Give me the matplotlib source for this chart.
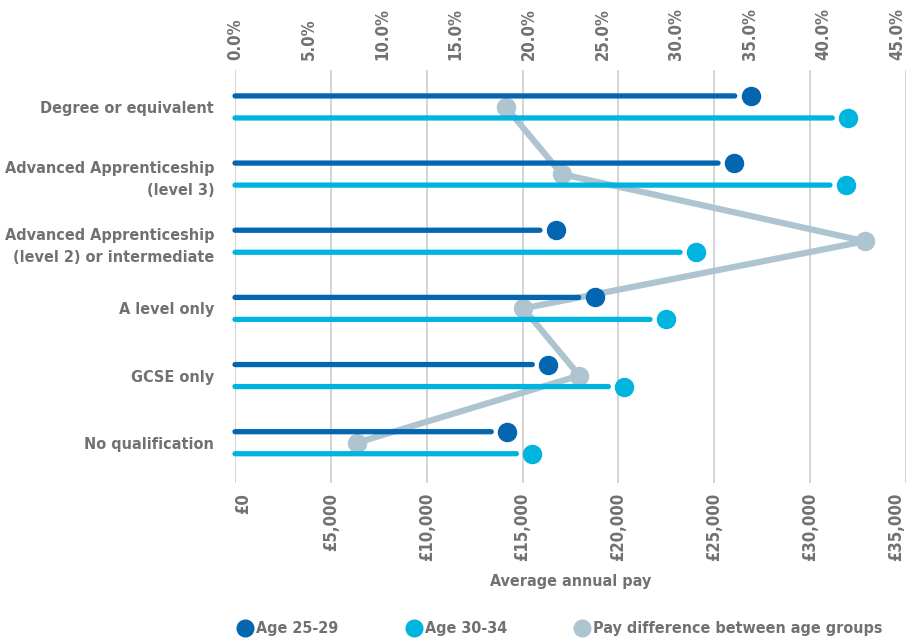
import matplotlib
matplotlib.use("Agg")
import matplotlib.pyplot as plt
from matplotlib.ticker import FuncFormatter, FixedLocator
from matplotlib.lines import Line2D
from matplotlib.transforms import ScaledTranslation

categories = ['Degree or equivalent',
              'Advanced Apprenticeship\n(level 3)',
              'Advanced Apprenticeship\n(level 2) or intermediate',
              'A level only',
              'GCSE only',
              'No qualification']
pay_25_29 = [26900, 26030, 16740, 18760, 16340, 14200]
pay_30_34 = [31990, 31870, 24050, 22480, 20310, 15510]
pay_diff_pct = [18.4, 22.2, 42.8, 19.6, 23.4, 8.3]
pay_ticks = [0, 5000, 10000, 15000, 20000, 25000, 30000, 35000]
pct_ticks = [0, 5, 10, 15, 20, 25, 30, 35, 40, 45]
series_names = ['Age 25-29', 'Age 30-34', 'Pay difference between age groups']

C_DARK = '#0465b0'
C_CYAN = '#00b4e0'
C_GREY = '#aec5d1'
C_TEXT = '#717171'
GRID = '#d4d4d4'

plt.rcParams['font.family'] = ['DejaVu Sans']
plt.rcParams['font.stretch'] = 'condensed'
plt.rcParams['font.weight'] = 'bold'
plt.rcParams['axes.labelweight'] = 'bold'

fig = plt.figure(figsize=(9.07, 6.43), dpi=100)
pos = [235/907, 1-483/643, (906-235)/907, (483-70)/643]

ax = fig.add_axes(pos)
ax.set_xlim(0, 35000)
ypos = list(range(len(categories)))
ax.set_ylim(5.6, -0.55)
ax.xaxis.set_major_locator(FixedLocator(pay_ticks))
ax.xaxis.set_major_formatter(FuncFormatter(lambda v, p: '£{:,.0f}'.format(v)))
ax.grid(axis='x', color=GRID, linewidth=1.4)
ax.set_axisbelow(True)
for s in ax.spines.values():
    s.set_visible(False)
ax.tick_params(axis='x', length=0, pad=7, labelsize=12, labelcolor=C_TEXT,
               labelrotation=90)
ax.tick_params(axis='y', length=0, pad=15, labelsize=11.6, labelcolor=C_TEXT)
ax.set_yticks(ypos)
ax.set_yticklabels(categories, linespacing=1.6)
ax.set_xlabel('Average annual pay', fontsize=11.5, color=C_TEXT, labelpad=9)

ax2 = ax.twiny()
ax2.set_xlim(0, 45.6)
ax2.xaxis.set_major_locator(FixedLocator(pct_ticks))
ax2.xaxis.set_major_formatter(FuncFormatter(lambda v, p: '{:.1f}%'.format(v)))
for s in ax2.spines.values():
    s.set_visible(False)
ax2.tick_params(axis='x', length=0, pad=7, labelsize=12, labelcolor=C_TEXT,
                labelrotation=90)
ax2.plot(pay_diff_pct, ypos, color=C_GREY, linewidth=4.5, marker='o',
         markersize=13, solid_capstyle='round', solid_joinstyle='round',
         clip_on=False)

ax3 = fig.add_axes(pos, sharex=ax, sharey=ax)
ax3.patch.set_visible(False)
ax3.axis('off')
off = 0.164
for vals, col, dy in [(pay_25_29, C_DARK, -off), (pay_30_34, C_CYAN, off)]:
    for y, v in zip(ypos, vals):
        ax3.annotate('', xy=(v, y + dy), xytext=(0, y + dy),
                     arrowprops=dict(arrowstyle='-', shrinkA=0, shrinkB=11.5,
                                     lw=3.8, color=col, capstyle='round'),
                     annotation_clip=False)
    ax3.plot(vals, [y + dy for y in ypos], linestyle='none', marker='o',
             markersize=13, color=col, clip_on=False)

handles = [Line2D([], [], linestyle='none', marker='o', markersize=12, color=c)
           for c in (C_DARK, C_CYAN, C_GREY)]
leg = fig.legend(handles, series_names, loc='center', ncol=3,
                 bbox_to_anchor=(560/907, 1-629/643), frameon=False,
                 handletextpad=0.2, columnspacing=4.2, handlelength=1.0,
                 fontsize=11.5)
for t in leg.get_texts():
    t.set_color(C_TEXT)

fig.canvas.draw()
labels = ax.get_xticklabels()
labels[0].set_transform(labels[0].get_transform() +
                        ScaledTranslation(8/100, 0, fig.dpi_scale_trans))
labels[-1].set_transform(labels[-1].get_transform() +
                         ScaledTranslation(-10/100, 0, fig.dpi_scale_trans))

fig.savefig('out.png', dpi=100)
